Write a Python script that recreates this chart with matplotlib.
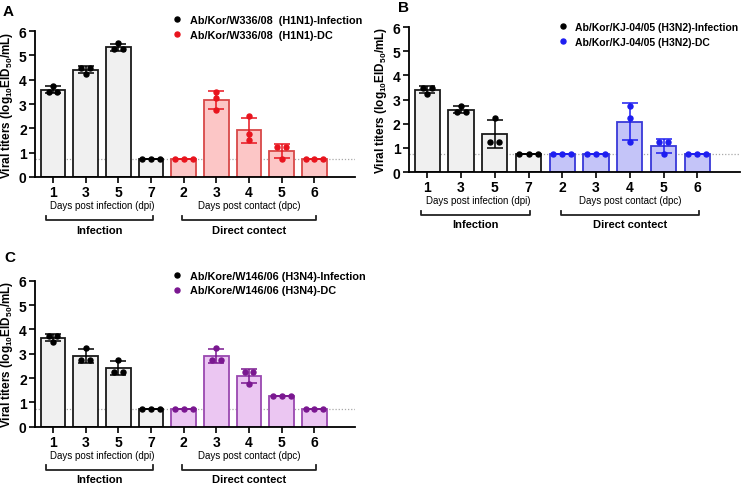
import numpy as np
import matplotlib
matplotlib.use('Agg')
from matplotlib import pyplot as plt
from matplotlib.lines import Line2D

plt.rcParams['font.family'] = ['Liberation Sans', 'DejaVu Sans']
plt.rcParams['mathtext.fontset'] = 'custom'
plt.rcParams['mathtext.rm'] = 'Liberation Sans'
plt.rcParams['mathtext.bf'] = 'Liberation Sans:bold'

tick_labels = ['1', '3', '5', '7', '2', '3', '4', '5', '6']
n_infection = 4
detection_limit = 0.75

# replicate titers (log10 EID50/mL), 3 birds per time point
a_values = [[3.75, 3.5, 3.5], [4.5, 4.5, 4.25], [5.5, 5.25, 5.25], [0.75, 0.75, 0.75],
            [0.75, 0.75, 0.75], [3.5, 3.25, 2.75], [2.5, 1.75, 1.5], [1.25, 1.25, 0.75],
            [0.75, 0.75, 0.75]]
b_values = [[3.5, 3.5, 3.25], [2.75, 2.5, 2.5], [2.25, 1.25, 1.25], [0.75, 0.75, 0.75],
            [0.75, 0.75, 0.75], [0.75, 0.75, 0.75], [2.75, 2.25, 1.25], [1.25, 1.25, 0.75],
            [0.75, 0.75, 0.75]]
c_values = [[3.75, 3.75, 3.5], [3.25, 2.75, 2.75], [2.75, 2.25, 2.25], [0.75, 0.75, 0.75],
            [0.75, 0.75, 0.75], [3.25, 2.75, 2.75], [2.25, 2.25, 1.75], [1.25, 1.25, 1.25],
            [0.75, 0.75, 0.75]]

a_labels = ['Ab/Kor/W336/08  (H1N1)-Infection', 'Ab/Kor/W336/08  (H1N1)-DC']
b_labels = ['Ab/Kor/KJ-04/05 (H3N2)-Infection', 'Ab/Kor/KJ-04/05 (H3N2)-DC']
c_labels = ['Ab/Kore/W146/06 (H3N4)-Infection', 'Ab/Kore/W146/06 (H3N4)-DC']

GRAY_FILL = '#f0f0f0'


def spread(vals, step=0.27):
    # prism-like scatter: identical values are spread out sideways
    vals = np.asarray(vals)
    offs = np.zeros(len(vals))
    for v in np.unique(vals):
        idx = np.where(np.isclose(vals, v))[0]
        offs[idx] = (np.arange(len(idx)) - (len(idx) - 1) / 2) * step
    return offs


def draw_panel(rect, letter, values, labels, dot_col, fill_col, edge_col, leg_anchor, letter_xy,
               leg_size=7.8):
    ax = fig.add_axes(rect)
    x = np.arange(len(values))
    means = np.array([np.mean(v) for v in values])
    sds = np.array([np.std(v, ddof=1) for v in values])

    for i in x:
        inf = i < n_infection
        fc = GRAY_FILL if inf else fill_col
        ec = '#1a1a1a' if inf else edge_col
        dc = 'black' if inf else dot_col
        ax.bar(i, means[i], width=0.75, color=fc, edgecolor=ec, linewidth=1.3, zorder=2)
        ax.errorbar(i, means[i], yerr=sds[i], color=dc, capsize=6, capthick=1.1,
                    elinewidth=1.1, zorder=3)
        ax.plot(i + spread(values[i]), values[i], 'o', color=dc, ms=3.6, zorder=4)

    ax.axhline(detection_limit, color='#a8a8a8', ls=(0, (1, 1.5)), lw=0.9, zorder=1)

    ax.set_xlim(-0.55, 9.25)
    ax.set_ylim(0, 6)
    ax.set_yticks(range(7))
    ax.set_xticks(x)
    ax.set_xticklabels(tick_labels)
    for s in ['top', 'right']:
        ax.spines[s].set_visible(False)
    for s in ['left', 'bottom']:
        ax.spines[s].set_linewidth(1.3)
    ax.tick_params(length=4, width=1.2, labelsize=10, pad=2)
    for t in ax.get_xticklabels() + ax.get_yticklabels():
        t.set_fontweight('bold')
    ax.set_ylabel(r'Viral titers (log$_{\mathbf{10}}$EID$_{\mathbf{50}}$/mL)',
                  fontsize=8.5, fontweight='bold', labelpad=3)

    trans = ax.get_xaxis_transform()
    ax.text(1.5, -0.19, 'Days post infection (dpi)', transform=trans, ha='center', va='center', fontsize=7)
    ax.text(6, -0.19, 'Days post contact (dpc)', transform=trans, ha='center', va='center', fontsize=7)
    for x0, x1, name in [(-0.2, 3.05, 'Infection'), (3.95, 8.05, 'Direct contect')]:
        ax.plot([x0, x0, x1, x1], [-0.265, -0.295, -0.295, -0.265], color='#222222', lw=1.3,
                transform=trans, clip_on=False)
        ax.text((x0 + x1) / 2, -0.36, name, transform=trans, ha='center', va='center',
                fontsize=8, fontweight='bold')

    handles = [Line2D([], [], ls='', marker='o', color='black', ms=3.6),
               Line2D([], [], ls='', marker='o', color=dot_col, ms=3.6)]
    ax.legend(handles, labels, loc='upper left', bbox_to_anchor=leg_anchor, frameon=False,
              handlelength=1, handletextpad=0.7, labelspacing=0.45, borderpad=0, borderaxespad=0,
              prop={'size': leg_size, 'weight': 'bold'})

    fig.text(letter_xy[0], letter_xy[1], letter, fontsize=11, fontweight='bold', ha='left', va='center')
    return ax


fig = plt.figure(figsize=(7.5, 4.85), dpi=100)

draw_panel([0.0467, 0.633, 0.427, 0.301], 'A', a_values, a_labels,
           '#e8141e', '#fcc6c6', '#d84848', (0.425, 1.11), (0.004, 0.975))
draw_panel([0.545, 0.643, 0.441, 0.299], 'B', b_values, b_labels,
           '#1e1ef0', '#c4c4f8', '#3838d8', (0.45, 1.035), (0.531, 0.983), leg_size=7.5)
draw_panel([0.0467, 0.118, 0.427, 0.301], 'C', c_values, c_labels,
           '#7a1790', '#ebc6f2', '#9a48b0', (0.425, 1.07), (0.006, 0.468))

fig.savefig('out.png', dpi=100)
